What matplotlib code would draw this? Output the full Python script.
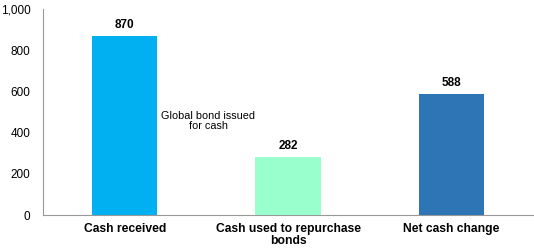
import matplotlib
matplotlib.use("Agg")
import matplotlib.pyplot as plt

categories = ["Cash received", "Cash used to repurchase\nbonds", "Net cash change"]
values = [870, 282, 588]
colors = ["#00B0F0", "#99FFCC", "#2E75B6"]
yticks = [0, 200, 400, 600, 800, 1000]
ytick_labels = ["0", "200", "400", "600", "800", "1,000"]

plt.rcParams['font.family'] = ['Liberation Sans', 'DejaVu Sans']

fig = plt.figure(figsize=(5.34, 2.48), dpi=100)
ax = fig.add_axes([0.0805, 0.133, 0.918, 0.831])
x = range(len(categories))
ax.bar(x, values, width=0.4, color=colors)
for xi, v in zip(x, values):
    ax.text(xi, v + 25, f"{v}", ha="center", va="bottom", fontsize=8.5, fontweight="bold")
ax.text(0.51, 456, "Global bond issued\nfor cash", ha="center", va="center", fontsize=7.8,
        linespacing=1.1)
ax.set_xlim(-0.5, 2.5)
ax.set_ylim(0, 1000)
ax.set_yticks(yticks)
ax.set_yticklabels(ytick_labels, fontsize=8.5)
ax.set_xticks(list(x))
ax.set_xticklabels(categories, fontsize=8.7, fontweight="bold", linespacing=1.0)
for s in ["top", "right"]:
    ax.spines[s].set_visible(False)
for s in ["left", "bottom"]:
    ax.spines[s].set_color("#999999")
ax.tick_params(axis="x", length=0, pad=6)
ax.tick_params(axis="y", length=0, pad=9)
fig.savefig("out.png", dpi=100)
